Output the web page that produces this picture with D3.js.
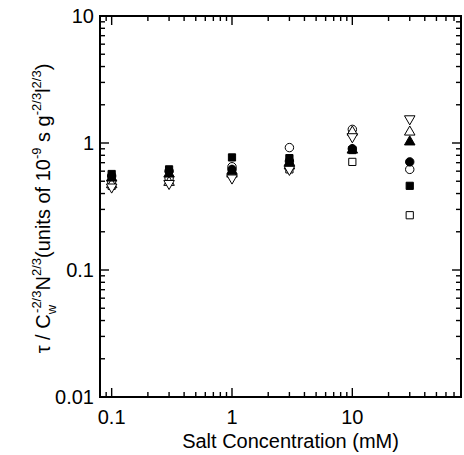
<!DOCTYPE html>
<html>
<head>
<meta charset="utf-8">
<script src="https://cdn.jsdelivr.net/npm/d3@7"></script>
<style>
  body { margin: 0; background: #fff; }
  text { font-family: "Liberation Sans", Arial, sans-serif; fill: #000; }
</style>
</head>
<body>
<div id="chart"></div>
<script>
// salt concentrations (mM)
var salt = [0.1, 0.3, 1, 3, 10, 30];

// one list per marker type
var filledSquare   = [0.57, 0.62, 0.77, 0.76, 0.88, 0.46];
var filledCircle   = [0.55, 0.60, 0.62, 0.72, 0.90, 0.71];
var filledTriangle = [0.53, 0.57, 0.60, 0.70, 0.88, 1.02];
var openSquare     = [0.46, 0.50, 0.58, 0.62, 0.71, 0.27];
var openCircle     = [0.50, 0.53, 0.65, 0.92, 1.28, 0.62];
var openTriUp      = [0.47, 0.49, 0.57, 0.66, 1.22, 1.22];
var openTriDown    = [0.45, 0.48, 0.53, 0.62, 1.12, 1.55];

var xTickLabels = ["0.1", "1", "10"];
var yTickLabels = ["0.01", "0.1", "1", "10"];

var series = [
  { vals: openSquare, sym: d3.symbolSquare, fill: false },
  { vals: openCircle, sym: d3.symbolCircle, fill: false },
  { vals: openTriUp, sym: d3.symbolTriangle, fill: false },
  { vals: openTriDown, sym: d3.symbolTriangle, fill: false, flip: true },
  { vals: filledTriangle, sym: d3.symbolTriangle, fill: true },
  { vals: filledCircle, sym: d3.symbolCircle, fill: true },
  { vals: filledSquare, sym: d3.symbolSquare, fill: true }
];

var W = 464, H = 455;
var pLeft = 100, pRight = 461, pTop = 16, pBottom = 397;

var svg = d3.select("#chart").append("svg")
  .attr("width", W).attr("height", H);

var x = d3.scaleLog().domain([0.08, 80]).range([pLeft, pRight]);
var y = d3.scaleLog().domain([0.01, 10]).range([pBottom, pTop]);

function isDecade(v) {
  return Math.abs(Math.log10(v) - Math.round(Math.log10(v))) < 1e-9;
}

// tick values, every 1..9 of each decade
var xMinor = [], yMinor = [];
[0.01, 0.1, 1, 10].forEach(function (d) {
  for (var k = 1; k < 10; k++) {
    var v = d * k;
    if (v > 0.081 && v < 79) xMinor.push(v);
  }
});
[0.01, 0.1, 1].forEach(function (d) {
  for (var k = 1; k < 10; k++) if (d * k > 0.011) yMinor.push(d * k);
});

var axes = svg.append("g").attr("stroke", "#000").attr("stroke-width", 1.4);

// ticks on all four sides, pointing in
xMinor.forEach(function (v) {
  var len = isDecade(v) ? 9 : 5;
  axes.append("line").attr("x1", x(v)).attr("x2", x(v)).attr("y1", pBottom).attr("y2", pBottom - len);
  axes.append("line").attr("x1", x(v)).attr("x2", x(v)).attr("y1", pTop).attr("y2", pTop + len);
});
yMinor.forEach(function (v) {
  var len = isDecade(v) ? 9 : 5;
  axes.append("line").attr("x1", pLeft).attr("x2", pLeft + len).attr("y1", y(v)).attr("y2", y(v));
  axes.append("line").attr("x1", pRight).attr("x2", pRight - len).attr("y1", y(v)).attr("y2", y(v));
});

svg.append("rect")
  .attr("x", pLeft).attr("y", pTop)
  .attr("width", pRight - pLeft).attr("height", pBottom - pTop)
  .attr("fill", "none").attr("stroke", "#000").attr("stroke-width", 2);

// tick labels
svg.selectAll(".xl").data(xTickLabels).enter().append("text")
  .attr("x", function (d) { return x(+d); })
  .attr("y", pBottom + 27)
  .attr("text-anchor", "middle")
  .attr("font-size", 20)
  .text(function (d) { return d; });

svg.selectAll(".yl").data(yTickLabels).enter().append("text")
  .attr("x", pLeft - 6)
  .attr("y", function (d) { return y(+d) + 7; })
  .attr("text-anchor", "end")
  .attr("font-size", 20)
  .text(function (d) { return d; });

svg.append("text")
  .attr("x", (pLeft + pRight) / 2 + 10)
  .attr("y", 448)
  .attr("text-anchor", "middle")
  .attr("font-size", 20)
  .text("Salt Concentration (mM)");

// y title with super/subscripts
var yt = svg.append("text")
  .attr("transform", "translate(50," + ((pTop + pBottom) / 2 + 2) + ") rotate(-90)")
  .attr("text-anchor", "middle")
  .attr("font-size", 20);
yt.append("tspan").text("\u03c4 / C");
yt.append("tspan").attr("font-size", 13).attr("dy", 6).text("w");
yt.append("tspan").attr("font-size", 13).attr("dy", -15).attr("dx", -8).text("-2/3");
yt.append("tspan").attr("dy", 9).text("N");
yt.append("tspan").attr("font-size", 13).attr("dy", -9).text("2/3");
yt.append("tspan").attr("dy", 9).text("(units of 10");
yt.append("tspan").attr("font-size", 13).attr("dy", -9).text("-9");
yt.append("tspan").attr("dy", 9).text(" s g");
yt.append("tspan").attr("font-size", 13).attr("dy", -9).text("-2/3");
yt.append("tspan").attr("dy", 9).text("l");
yt.append("tspan").attr("font-size", 13).attr("dy", -9).text("2/3");
yt.append("tspan").attr("dy", 9).text(")");

// markers
var pts = svg.append("g");
series.forEach(function (s) {
  var size = s.sym === d3.symbolCircle ? 56 : (s.sym === d3.symbolSquare ? 52 : 48);
  var sym = d3.symbol().type(s.sym).size(size);
  pts.selectAll(null).data(s.vals).enter().append("path")
    .attr("d", sym)
    .attr("transform", function (d, i) {
      return "translate(" + x(salt[i]) + "," + y(d) + ")" + (s.flip ? " rotate(180)" : "");
    })
    .attr("fill", s.fill ? "#000" : "#fff")
    .attr("stroke", "#000")
    .attr("stroke-width", 1);
});
</script>
</body>
</html>
